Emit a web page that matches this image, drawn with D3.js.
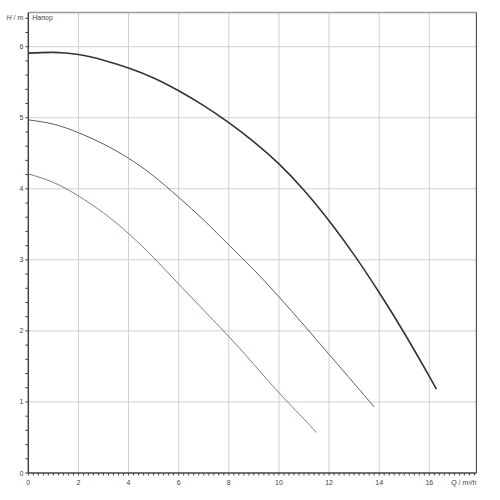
<!DOCTYPE html>
<html><head><meta charset="utf-8">
<script src="https://cdn.jsdelivr.net/npm/d3@7"></script>
<style>body{margin:0;background:#fff}svg{display:block}text{font-family:"Liberation Sans",Arial,sans-serif}</style>
</head><body><svg id="c" width="500" height="500"></svg>
<script>
// Data (Q in m³/h, H in m)
const q1 = [0,1,2,3,4,5,6,7,8,9,10,11,12,13,14,15,16,16.28];
const h1 = [5.91,5.92,5.89,5.81,5.70,5.56,5.38,5.17,4.93,4.66,4.35,3.98,3.55,3.07,2.54,1.97,1.36,1.18];
const q2 = [0,1,2,3,4,5,6,7,8,9,10,11,12,13,13.8];
const h2 = [4.97,4.91,4.79,4.63,4.43,4.18,3.88,3.56,3.21,2.86,2.48,2.08,1.67,1.26,0.93];
const q3 = [0,1,2,3,4,5,6,7,8,9,10,11,11.49];
const h3 = [4.21,4.09,3.90,3.66,3.37,3.03,2.66,2.29,1.92,1.53,1.13,0.76,0.57];
const xTicks = [0,2,4,6,8,10,12,14,16];
const yTicks = [0,1,2,3,4,5,6];
const xLabel = "Q / m³/h";
const yLabel = "H / m";
const curveName = "Напор";
const xMax = 17.88, yMax = 6.48;

const svg = d3.select("#c");
const x = d3.scaleLinear().domain([0,16]).range([28.3,429.3]);
const y = d3.scaleLinear().domain([0,6]).range([473,46.7]);
const x0 = x(0), x1 = x(xMax), y0 = y(0), y1 = y(yMax);

// grid
const g = svg.append("g");
g.selectAll(".gx").data(xTicks.filter(d=>d>0)).join("line")
  .attr("x1",d=>x(d)).attr("x2",d=>x(d)).attr("y1",y0).attr("y2",y1)
  .attr("stroke","#cfcfcf").attr("stroke-width",1);
g.selectAll(".gy").data(yTicks.filter(d=>d>0)).join("line")
  .attr("x1",x0).attr("x2",x1).attr("y1",d=>y(d)).attr("y2",d=>y(d))
  .attr("stroke","#cfcfcf").attr("stroke-width",1);

// frame
svg.append("line").attr("x1",x0).attr("x2",x1).attr("y1",y1).attr("y2",y1).attr("stroke","#9a9a9a").attr("stroke-width",1.5);
svg.append("line").attr("x1",x1).attr("x2",x1).attr("y1",y1).attr("y2",y0).attr("stroke","#555").attr("stroke-width",1.2);

// minor ticks
const xMinor = d3.range(0, xMax+0.001, 0.2).map(v=>+v.toFixed(1));
const yMinor = d3.range(0, yMax+0.001, 0.2).map(v=>+v.toFixed(1));
svg.append("g").selectAll("line").data(xMinor).join("line")
  .attr("x1",d=>x(d)).attr("x2",d=>x(d)).attr("y1",y0).attr("y2",y0+2.5)
  .attr("stroke","#444").attr("stroke-width",1);
svg.append("g").selectAll("line").data(yMinor).join("line")
  .attr("x1",x0-3).attr("x2",x0).attr("y1",d=>y(d)).attr("y2",d=>y(d))
  .attr("stroke","#444").attr("stroke-width",1);

// axes lines
svg.append("line").attr("x1",x0).attr("x2",x0).attr("y1",y1).attr("y2",y0).attr("stroke","#444").attr("stroke-width",1.5);
svg.append("line").attr("x1",x0).attr("x2",x1).attr("y1",y0).attr("y2",y0).attr("stroke","#444").attr("stroke-width",1.5);

// tick labels
svg.append("g").selectAll("text").data(xTicks).join("text")
  .attr("x",d=>x(d)).attr("y",y0+12).attr("text-anchor","middle")
  .attr("font-size",7).attr("fill","#444").text(d=>d);
svg.append("g").selectAll("text").data(yTicks).join("text")
  .attr("x",x0-5).attr("y",d=>y(d)+2.5).attr("text-anchor","end")
  .attr("font-size",7).attr("fill","#444").text(d=>d);

// axis titles
const yl = svg.append("text").attr("x",x0-5).attr("y",y1+7).attr("text-anchor","end").attr("font-size",7).attr("fill","#444");
yl.append("tspan").attr("font-style","italic").text(yLabel.split(" ")[0]);
yl.append("tspan").text(" " + yLabel.split(" ").slice(1).join(" "));
svg.append("text").attr("x",x1).attr("y",y0+12).attr("text-anchor","end").attr("font-size",7).attr("fill","#444").text(xLabel);
svg.append("text").attr("x",x0+4).attr("y",y1+7).attr("font-size",7).attr("fill","#444").text(curveName);

// curves
const line = d3.line().x(d=>x(d[0])).y(d=>y(d[1])).curve(d3.curveNatural);
const series = [
  {q:q1,h:h1,color:"#333333",w:1.6},
  {q:q2,h:h2,color:"#4f4660",w:0.9},
  {q:q3,h:h3,color:"#8a5a8a",w:0.9}
];
svg.append("g").selectAll("path").data(series).join("path")
  .attr("d",s=>line(d3.zip(s.q,s.h))).attr("fill","none")
  .attr("stroke",s=>s.color).attr("stroke-width",s=>s.w);
</script></body></html>
